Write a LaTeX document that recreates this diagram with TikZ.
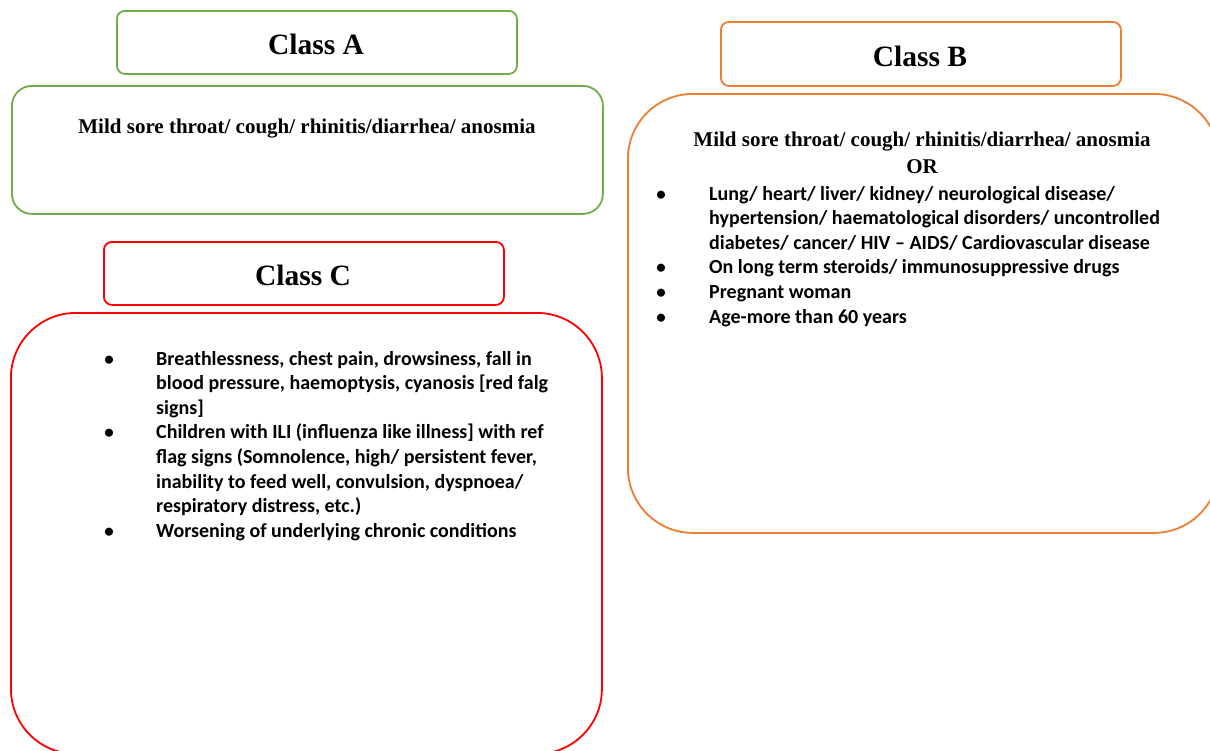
\documentclass[tikz,border=0pt]{standalone}
\usepackage{fontspec}
\setmainfont{Liberation Serif}
\newfontfamily\calfont{Carlito}
\definecolor{cgreen}{HTML}{70AD47}
\definecolor{corange}{HTML}{ED7D31}
\definecolor{cred}{HTML}{FF0000}
\tikzset{
  boxbase/.style={line width=1.8pt, inner sep=0pt, anchor=north west, fill=none},
  headbox/.style={boxbase, rounded corners=8pt},
  title/.style={anchor=base, font=\bfseries\fontsize{29.5}{30}\selectfont, inner sep=0pt},
  serifline/.style={anchor=base, font=\bfseries\fontsize{21}{24}\selectfont, inner sep=0pt},
  bline/.style={anchor=base west, font=\calfont\bfseries\fontsize{20}{24}\selectfont, inner sep=0pt},
  bul/.style={anchor=base, font=\calfont\bfseries\fontsize{19}{24}\selectfont, inner sep=0pt}
}
\begin{document}
\begin{tikzpicture}[x=1pt,y=-1pt]
\useasboundingbox (0,0) rectangle (1210,750);
\clip (0,0) rectangle (1210,750);
% Class A
\node[headbox, draw=cgreen, minimum width=400pt, minimum height=63pt] (hA) at (116,10) {};
\node[title] (tA) at (316,54) {Class A};
\node[boxbase, draw=cgreen, rounded corners=20pt, minimum width=591pt, minimum height=128pt] (bA) at (11,85) {};
\node[serifline] (a1) at (307,133) {Mild sore throat/ cough/ rhinitis/diarrhea/ anosmia};
% Class B
\node[headbox, draw=corange, minimum width=400pt, minimum height=64pt] (hB) at (720,21) {};
\node[title] (tB) at (920,66) {Class B};
\node[boxbase, draw=corange, rounded corners=65pt, minimum width=591pt, minimum height=439pt] (bB) at (627,93) {};
\node[serifline] (m1) at (922,146) {Mild sore throat/ cough/ rhinitis/diarrhea/ anosmia};
\node[serifline] (m2) at (922,173) {OR};
\node[bul] (bb1) at (661,200) {\textbullet};
\node[bline] (l1) at (709,200) {Lung/ heart/ liver/ kidney/ neurological disease/};
\node[bline] (l2) at (709,224.6) {hypertension/ haematological disorders/ uncontrolled};
\node[bline] (l3) at (709,249.2) {diabetes/ cancer/ HIV – AIDS/ Cardiovascular disease};
\node[bul] (bb2) at (661,273.8) {\textbullet};
\node[bline] (l4) at (709,273.8) {On long term steroids/ immunosuppressive drugs};
\node[bul] (bb3) at (661,298.4) {\textbullet};
\node[bline] (l5) at (709,298.4) {Pregnant woman};
\node[bul] (bb4) at (661,323) {\textbullet};
\node[bline] (l6) at (709,323) {Age-more than 60 years};
% Class C
\node[headbox, draw=cred, minimum width=400pt, minimum height=63pt] (hC) at (103,241) {};
\node[title] (tC) at (303,285) {Class C};
\node[boxbase, draw=cred, rounded corners=65pt, minimum width=591pt, minimum height=441pt] (bC) at (10,312) {};
\node[bul] (cb1) at (109,365) {\textbullet};
\node[bline] (c1) at (156,365) {Breathlessness, chest pain, drowsiness, fall in};
\node[bline] (c2) at (156,389.6) {blood pressure, haemoptysis, cyanosis [red falg};
\node[bline] (c3) at (156,414.2) {signs]};
\node[bul] (cb2) at (109,438.8) {\textbullet};
\node[bline] (c4) at (156,438.8) {Children with ILI (influenza like illness] with ref};
\node[bline] (c5) at (156,463.4) {flag signs (Somnolence, high/ persistent fever,};
\node[bline] (c6) at (156,488) {inability to feed well, convulsion, dyspnoea/};
\node[bline] (c7) at (156,512.6) {respiratory distress, etc.)};
\node[bul] (cb3) at (109,537.2) {\textbullet};
\node[bline] (c8) at (156,537.2) {Worsening of underlying chronic conditions};
\end{tikzpicture}
\end{document}
